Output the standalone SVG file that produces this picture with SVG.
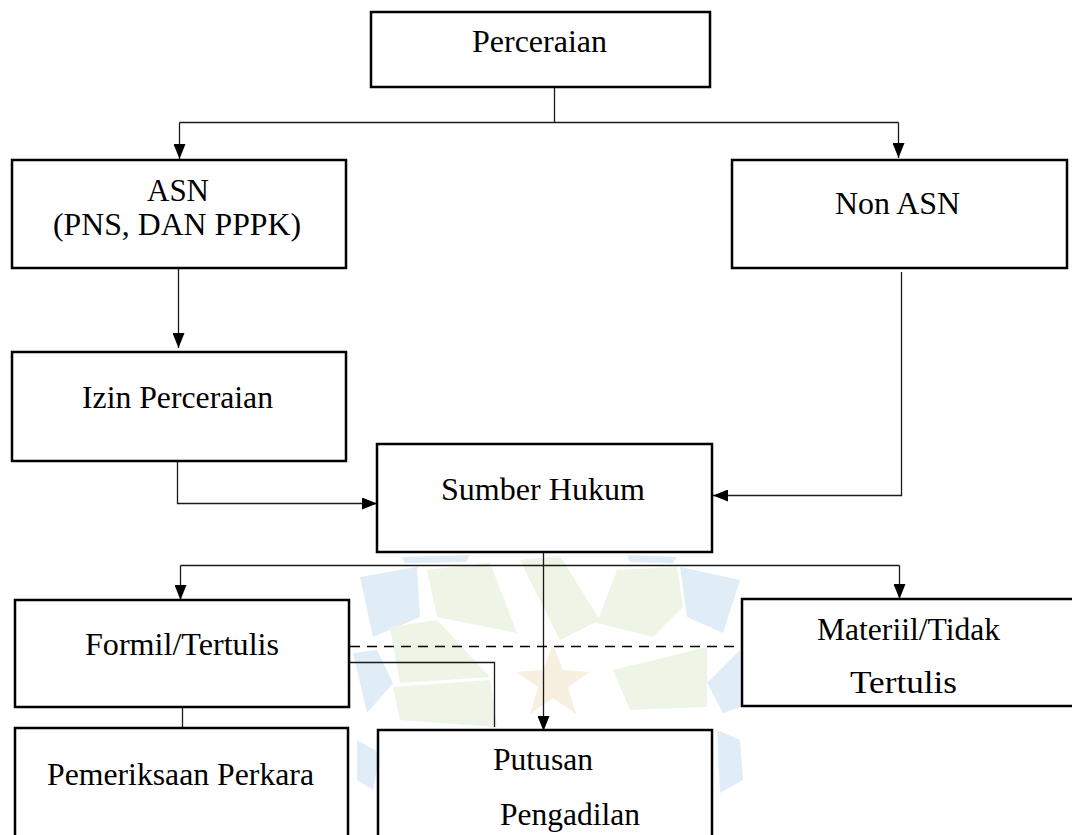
<svg xmlns="http://www.w3.org/2000/svg" width="1072" height="835" viewBox="0 0 1072 835">
<style>
.box{fill:#fff;stroke:#000;stroke-width:2.5}
.lbl{font-family:'Liberation Serif','Times New Roman',Times,serif;font-size:32px;fill:#000}
.con{fill:none;stroke:#1a1a1a;stroke-width:1.3}
.dash{fill:none;stroke:#000;stroke-width:1.3;stroke-dasharray:10 7}
.wb{fill:#d6e7f5}
.wg{fill:#e9f2df}
</style>
<defs>
<marker id="ah" markerUnits="userSpaceOnUse" markerWidth="15" markerHeight="12" refX="15" refY="6" orient="auto" viewBox="0 0 15 12">
<path d="M0,0 L15,6 L0,12 z" fill="#000"/>
</marker>
</defs>
<rect width="1072" height="835" fill="#fff"/>
<g id="watermark" opacity="0.75">
<polygon class="wb" points="360,577 417,567 420,617 373,637"/>
<polygon class="wb" points="353,653 377,650 393,683 367,713"/>
<polygon class="wb" points="357,740 380,753 373,790 357,780"/>
<polygon class="wg" points="427,570 490,563 517,633 437,617"/>
<polygon class="wg" points="390,627 437,620 490,677 400,683"/>
<polygon class="wg" points="393,687 490,680 497,727 400,720"/>
<polygon class="wb" points="680,567 740,580 723,633 687,617"/>
<polygon class="wb" points="707,683 740,650 740,707 723,713"/>
<polygon class="wb" points="717,730 740,740 743,780 720,793"/>
<polygon class="wg" points="617,570 677,567 683,607 653,637 597,623"/>
<polygon class="wg" points="613,670 707,647 707,707 630,710"/>
<polygon class="wg" points="520,560 560,556 600,620 560,640"/>
<polygon class="wb" points="402,557 470,555 466,562 405,563"/>
<polygon class="wb" points="627,555 677,557 673,563 630,562"/>
<polygon fill="#f5ead5" points="553,645 563,670 590,672 568,687 576,714 553,698 530,714 538,687 516,672 543,670"/>
</g>
<g id="connectors">
<path class="con" d="M554.5,88 V122.5 M179.5,122.5 H898.5"/>
<path class="con" d="M179.5,122.5 V159" marker-end="url(#ah)"/>
<path class="con" d="M898.5,122.5 V158" marker-end="url(#ah)"/>
<path class="con" d="M178.5,269 V348" marker-end="url(#ah)"/>
<path class="con" d="M177.5,461 V503.5 H377" marker-end="url(#ah)"/>
<path class="con" d="M901.5,272 V495.5 H713" marker-end="url(#ah)"/>
<path class="con" d="M543.5,553 V731" marker-end="url(#ah)"/>
<path class="con" d="M180.5,565.5 H899.5"/>
<path class="con" d="M180.5,565.5 V600" marker-end="url(#ah)"/>
<path class="con" d="M899.5,565.5 V599" marker-end="url(#ah)"/>
<path class="dash" d="M350,646.5 H741"/>
<path class="con" d="M349,662.5 H494.5 V727"/>
<path class="con" d="M182.5,707 V728"/>
</g>
<g id="n-perceraian">
<rect class="box" x="371" y="12" width="339" height="75"/>
<text class="lbl" x="472" y="52" textLength="135" lengthAdjust="spacingAndGlyphs">Perceraian</text>
</g>
<g id="n-asn">
<rect class="box" x="12" y="160" width="334" height="108"/>
<text class="lbl" x="147" y="201" textLength="62" lengthAdjust="spacingAndGlyphs">ASN</text>
<text class="lbl" x="53" y="235" textLength="248" lengthAdjust="spacingAndGlyphs">(PNS, DAN PPPK)</text>
</g>
<g id="n-nonasn">
<rect class="box" x="732" y="160" width="335" height="108"/>
<text class="lbl" x="835" y="214" textLength="125" lengthAdjust="spacingAndGlyphs">Non ASN</text>
</g>
<g id="n-izin">
<rect class="box" x="12" y="352" width="334" height="109"/>
<text class="lbl" x="82" y="408" textLength="191" lengthAdjust="spacingAndGlyphs">Izin Perceraian</text>
</g>
<g id="n-sumber">
<rect class="box" x="377" y="444" width="335" height="108"/>
<text class="lbl" x="441" y="500" textLength="204" lengthAdjust="spacingAndGlyphs">Sumber Hukum</text>
</g>
<g id="n-formil">
<rect class="box" x="15" y="600" width="334" height="107"/>
<text class="lbl" x="85" y="655" textLength="194" lengthAdjust="spacingAndGlyphs">Formil/Tertulis</text>
</g>
<g id="n-materiil">
<rect class="box" x="742" y="599" width="336" height="107"/>
<text class="lbl" x="817" y="640" textLength="183" lengthAdjust="spacingAndGlyphs">Materiil/Tidak</text>
<text class="lbl" x="850" y="693" textLength="107" lengthAdjust="spacingAndGlyphs">Tertulis</text>
</g>
<g id="n-pemeriksaan">
<rect class="box" x="15" y="728" width="333" height="130"/>
<text class="lbl" x="47" y="785" textLength="267" lengthAdjust="spacingAndGlyphs">Pemeriksaan Perkara</text>
</g>
<g id="n-putusan">
<rect class="box" x="378" y="730" width="334" height="130"/>
<text class="lbl" x="493" y="770" textLength="100" lengthAdjust="spacingAndGlyphs">Putusan</text>
<text class="lbl" x="500" y="825" textLength="140" lengthAdjust="spacingAndGlyphs">Pengadilan</text>
</g>
</svg>
